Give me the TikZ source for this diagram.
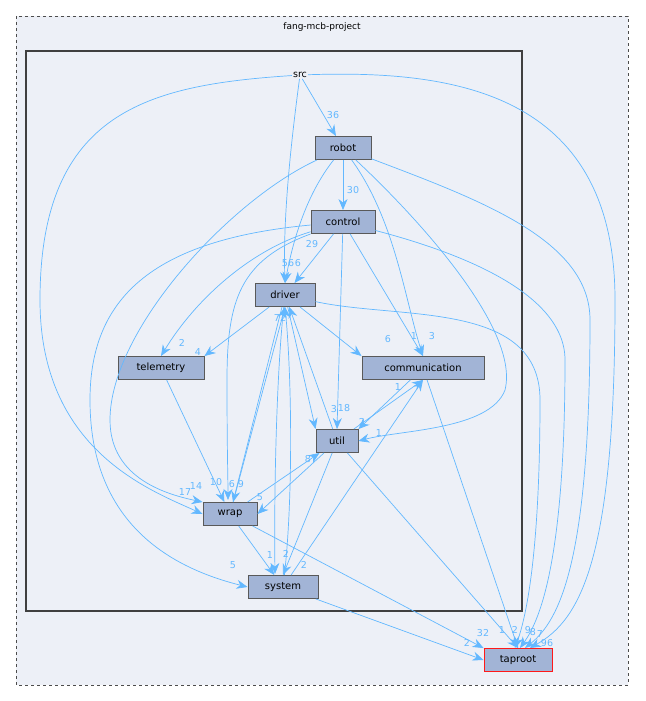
\documentclass[tikz,border=0pt]{standalone}
\usepackage{fontspec}
\setmainfont{DejaVu Sans}
\usetikzlibrary{arrows.meta}
\definecolor{edge}{HTML}{63B8FF}
\definecolor{boxfill}{HTML}{A2B4D6}
\definecolor{bg}{HTML}{EDF0F7}
\tikzset{
 x=1pt,y=-1pt,
 dir/.style={draw=black!65,fill=boxfill,line width=0.9pt,minimum height=23pt,inner sep=0pt,font=\fontsize{10}{12}\selectfont},
 dep/.style={draw=edge,line width=0.7pt,-{Stealth[length=11pt,width=9pt]}},
 lab/.style={text=edge,font=\fontsize{9.5}{11}\selectfont,inner sep=0pt}
}
\begin{document}
\begin{tikzpicture}
\useasboundingbox (0,0) rectangle (645,701);
\fill[white] (0,0) rectangle (645,701);
\draw[dashed,fill=bg,line width=0.7pt,draw=black!70] (16,16) rectangle (628,685);
\node[font=\fontsize{9}{11}\selectfont] (proj) at (322,27) {fang-mcb-project};
\draw[line width=1.6pt,draw=black!75] (26,51) rectangle (522,611);
\node[font=\fontsize{9.5}{11}\selectfont,inner sep=1pt] (src) at (300,75) {src};
\node[dir,minimum width=56pt] (robot) at (343,148) {robot};
\node[dir,minimum width=64pt] (control) at (343,222) {control};
\node[dir,minimum width=60pt] (driver) at (285,295) {driver};
\node[dir,minimum width=86pt] (telemetry) at (161,368) {telemetry};
\node[dir,minimum width=122pt] (comm) at (423,368) {communication};
\node[dir,minimum width=42pt] (util) at (337,441) {util};
\node[dir,minimum width=54pt] (wrap) at (230,514) {wrap};
\node[dir,minimum width=70pt] (system) at (283,587) {system};
\node[dir,minimum width=68pt,draw=red!90] (taproot) at (518,660) {taproot};
% src
\draw[dep] (src) -- (robot); \node[lab] at (333,115) {36};
\draw[dep] (src) .. controls (290,150) and (283,220) .. (driver.north); \node[lab] at (288,263) {56};
\draw[dep] (src) .. controls (150,85) and (40,110) .. (40,300) .. controls (40,450) and (150,490) .. (wrap.west); \node[lab] at (185,492) {17};
\draw[dep] (src) .. controls (450,70) and (615,90) .. (615,300) .. controls (615,560) and (580,620) .. (530,648); \node[lab] at (547,643) {96};
% robot
\draw[dep] (robot) -- (control); \node[lab] at (353,190) {30};
\draw[dep] (robot) .. controls (310,190) and (295,230) .. (driver.north); \node[lab] at (298,263) {6};
\draw[dep] (robot) .. controls (230,200) and (110,330) .. (110,420) .. controls (110,480) and (170,495) .. (wrap.north west); \node[lab] at (196,486) {14};
\draw[dep] (robot) .. controls (395,220) and (405,300) .. (comm.north); \node[lab] at (432,336) {3};
\draw[dep] (robot) .. controls (420,220) and (520,330) .. (505,390) .. controls (490,430) and (400,430) .. (util.east); \node[lab] at (379,433) {1};
\draw[dep] (robot) .. controls (480,200) and (590,240) .. (590,320) .. controls (590,560) and (560,620) .. (525,648); \node[lab] at (540,634) {7};
% control
\draw[dep] (control) -- (driver); \node[lab] at (312,244) {29};
\draw[dep] (control) .. controls (250,250) and (195,300) .. (telemetry.north); \node[lab] at (182,343) {2};
\draw[dep] (control) .. controls (240,260) and (227,300) .. (227,380) .. controls (227,450) and (228,480) .. (228,500); \node[lab] at (216,482) {10};
\draw[dep] (control) -- (comm.north); \node[lab] at (414,336) {1};
\draw[dep] (control) -- (util.north); \node[lab] at (344,408) {18};
\draw[dep] (control) .. controls (150,240) and (90,300) .. (90,400) .. controls (90,530) and (180,570) .. (system.west); \node[lab] at (233,565) {5};
\draw[dep] (control) .. controls (450,250) and (565,290) .. (565,360) .. controls (565,560) and (540,620) .. (520,648); \node[lab] at (533,632) {8};
% driver
\draw[dep] (driver) -- (telemetry.north east); \node[lab] at (198,352) {4};
\draw[dep] (driver) -- (comm.north west); \node[lab] at (388,339) {6};
\draw[dep] (driver) -- (util.north west); \node[lab] at (334,409) {3};
\draw[dep] (driver) -- (wrap); \node[lab] at (232,484) {6};
\draw[dep] (driver) .. controls (276,380) and (274,500) .. (275,574); \node[lab] at (286,554) {2};
\draw[dep] (driver) .. controls (400,320) and (540,300) .. (540,400) .. controls (540,560) and (525,620) .. (515,648); \node[lab] at (528,630) {9};
% telemetry
\draw[dep] (telemetry) -- (wrap);
% communication
\draw[dep] (comm) -- (util.north east); \node[lab] at (362,422) {2};
\draw[dep] (comm) -- (taproot.north); \node[lab] at (502,630) {1};
% util
\draw[dep] (util) -- (comm.south); \node[lab] at (398,387) {1};
\draw[dep] (util) -- (driver); \node[lab] at (280,318) {72};
\draw[dep] (util) -- (wrap.east); \node[lab] at (260,497) {5};
\draw[dep] (util) -- (system.north);
\draw[dep] (util) -- (taproot.north); \node[lab] at (515,630) {2};
% wrap
\draw[dep] (wrap) -- (driver.south); \node[lab] at (241,484) {9};
\draw[dep] (wrap) -- (util); \node[lab] at (308,459) {8};
\draw[dep] (wrap) -- (system); \node[lab] at (270,555) {1};
\draw[dep] (wrap) -- (taproot.north west); \node[lab] at (483,633) {32};
% system
\draw[dep] (system) .. controls (293,500) and (292,380) .. (driver.south);
\draw[dep] (system) -- (comm.south); \node[lab] at (304,565) {2};
\draw[dep] (system) -- (taproot.west); \node[lab] at (467,643) {2};
\end{tikzpicture}
\end{document}
